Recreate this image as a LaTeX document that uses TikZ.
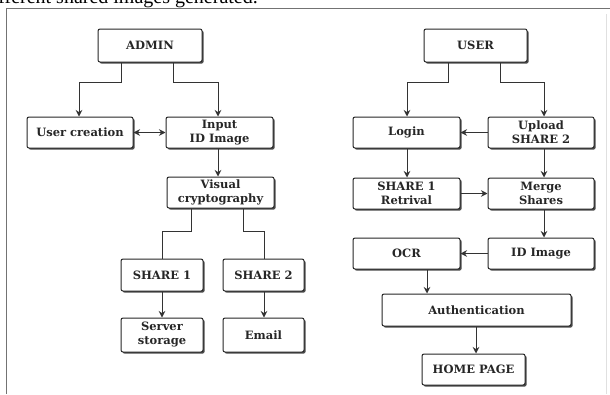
\documentclass[tikz,border=0pt]{standalone}
\usepackage{fontspec}
\setmainfont{DejaVu Serif}
\newfontfamily\capfont{Liberation Serif}
\usetikzlibrary{shadows,arrows.meta}
\tikzset{
  bx/.style={draw=black!85, line width=1pt, fill=white, rounded corners=2pt,
    align=center, inner sep=1pt,
    font=\bfseries\fontsize{11.5}{14}\selectfont, text=black!85,
    drop shadow={shadow xshift=1.6pt, shadow yshift=-1.6pt, fill=black!70, opacity=1}},
  arr/.style={draw=black!80, line width=1pt, -{Stealth[length=6.5pt,width=6.5pt]}},
  ln/.style={draw=black!80, line width=1pt},
  frame/.style={draw=black!55, line width=1.6pt},
}
\begin{document}
\begin{tikzpicture}[x=1pt,y=-1pt]
\useasboundingbox (0,0) rectangle (610,394);
\begin{scope}
\clip (0,0) rectangle (610,394);
\node[anchor=base east, inner sep=0pt, font=\capfont\fontsize{20}{22}\selectfont] (cap) at (258,3) {different shared images generated.};
\end{scope}
\draw[frame] (610,8.5) -- (6.5,8.5) -- (6.5,394);
\draw[draw=black!12, line width=0.8pt] (606,14) -- (606,394);

% left column
\node[bx, minimum width=104, minimum height=33] (admin) at (150,45.5) {ADMIN};
\node[bx, minimum width=106, minimum height=31] (ucre) at (80,132.5) {User creation};
\node[bx, minimum width=107, minimum height=31] (input) at (219.5,132.5) {Input\\ID Image};
\node[bx, minimum width=107, minimum height=31] (visual) at (220.5,192.5) {Visual\\cryptography};
\node[bx, minimum width=82, minimum height=32] (share1) at (162,275) {SHARE 1};
\node[bx, minimum width=81, minimum height=32] (share2) at (263.5,275) {SHARE 2};
\node[bx, minimum width=82, minimum height=34] (server) at (162,335) {Server\\storage};
\node[bx, minimum width=81, minimum height=34] (email) at (263.5,335) {Email};

% right column
\node[bx, minimum width=103, minimum height=33] (user) at (475.5,45.5) {USER};
\node[bx, minimum width=107, minimum height=31] (login) at (406.5,132.5) {Login};
\node[bx, minimum width=106, minimum height=31] (upload) at (541,132.5) {Upload\\SHARE 2};
\node[bx, minimum width=107, minimum height=31] (ret) at (406.5,193.5) {SHARE 1\\Retrival};
\node[bx, minimum width=106, minimum height=31] (merge) at (541,193.5) {Merge\\Shares};
\node[bx, minimum width=107, minimum height=31] (ocr) at (406.5,253.5) {OCR};
\node[bx, minimum width=106, minimum height=31] (idimg) at (541,253.5) {ID Image};
\node[bx, minimum width=189, minimum height=32] (auth) at (476.5,310) {Authentication};
\node[bx, minimum width=103, minimum height=31] (home) at (473.5,369.5) {HOME PAGE};

% left connectors
\draw[arr] (admin.south -| 121,0) -- (121,82) -| (ucre.north -| 79,0);
\draw[arr] (admin.south -| 173,0) -- (173,82) -| (input.north -| 218,0);
\draw[ln, {Stealth[length=6.5pt,width=6.5pt]}-{Stealth[length=6.5pt,width=6.5pt]}] (ucre.east) -- (input.west);
\draw[arr] (input.south -| 218,0) -- (visual.north -| 218,0);
\draw[ln] (visual.south -| 191,0) -- (191,231) -| (share1.north -| 162,0);
\draw[ln] (visual.south -| 243,0) -- (243,231) -| (share2.north -| 264,0);
\draw[arr] (share1.south -| 162,0) -- (server.north -| 162,0);
\draw[arr] (share2.south -| 264,0) -- (email.north -| 264,0);

% right connectors
\draw[arr] (user.south -| 448,0) -- (448,82) -| (login.north -| 407,0);
\draw[arr] (user.south -| 500,0) -- (500,82) -| (upload.north -| 544,0);
\draw[arr] (upload.west) -- (login.east);
\draw[arr] (login.south -| 407,0) -- (ret.north -| 407,0);
\draw[arr] (upload.south -| 544,0) -- (merge.north -| 544,0);
\draw[arr] (ret.east) -- (merge.west);
\draw[arr] (merge.south -| 544,0) -- (idimg.north -| 544,0);
\draw[arr] (idimg.west) -- (ocr.east);
\draw[arr] (ocr.south -| 427,0) -- (auth.north -| 427,0);
\draw[arr] (auth.south -| 476,0) -- (home.north -| 476,0);
\end{tikzpicture}
\end{document}
